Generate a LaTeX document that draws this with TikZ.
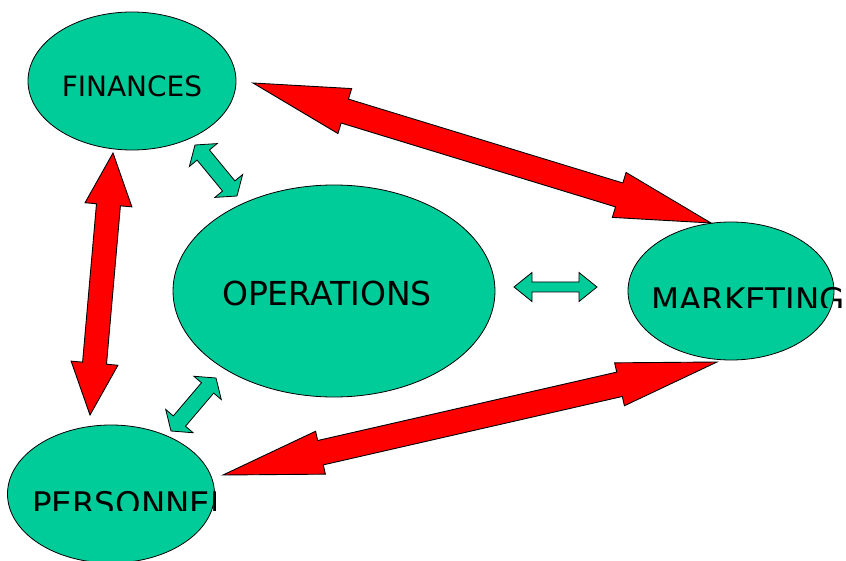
\documentclass[tikz,border=0pt]{standalone}
\usepackage{fontspec}
\setmainfont{DejaVu Sans}
\usepackage{tikz}
\usetikzlibrary{shapes.geometric,calc}
\definecolor{opgreen}{HTML}{00CC99}

% double-headed block arrow: from, to, shaft half, head length, head half, style
\newcommand{\blockarrow}[6]{%
  \filldraw[#6] let \p1=($(#2)-(#1)$), \n1={atan2(\y1,\x1)} in
    (#1) -- ($(#1)+(\n1:#4)+(\n1+90:#5)$) -- ($(#1)+(\n1:#4)+(\n1+90:#3)$)
    -- ($(#2)+(\n1+180:#4)+(\n1+90:#3)$) -- ($(#2)+(\n1+180:#4)+(\n1+90:#5)$)
    -- (#2) -- ($(#2)+(\n1+180:#4)+(\n1-90:#5)$) -- ($(#2)+(\n1+180:#4)+(\n1-90:#3)$)
    -- ($(#1)+(\n1:#4)+(\n1-90:#3)$) -- ($(#1)+(\n1:#4)+(\n1-90:#5)$) -- cycle;
}

\begin{document}
\begin{tikzpicture}[
  x=1pt, y=-1pt,
  oval/.style={ellipse, draw=black, line width=0.8pt, fill=opgreen, inner sep=0pt},
  word/.style={inner sep=0pt, text=black},
  red block/.style={fill=red, draw=black, line width=0.9pt, line join=miter},
  green block/.style={fill=opgreen, draw=black, line width=0.8pt, line join=miter},
  ]
  \useasboundingbox (0,0) rectangle (846,561);

  \node[oval, minimum width=208pt, minimum height=138pt] (fin) at (132,81) {};
  \node[oval, minimum width=322pt, minimum height=212pt] (ops) at (334,291) {};
  \node[oval, minimum width=206pt, minimum height=138pt] (mkt) at (731,291) {};
  \node[oval, minimum width=207pt, minimum height=138pt] (per) at (111,494) {};

  \node[word, font=\fontsize{28}{30}\selectfont] (fintext) at (132,86) {FINANCES};
  \node[word, font=\fontsize{33}{36}\selectfont] (opstext) at (327,293) {OPERATIONS};
  \begin{scope}
    \clip (600,250) rectangle (846,308);
    \node[word, anchor=base west, font=\fontsize{32.5}{36}\selectfont] (mkttext) at (651,312) {MARKETING};
  \end{scope}
  \begin{scope}
    \clip (0,470) rectangle (215,510);
    \node[word, anchor=base west, font=\fontsize{32.5}{36}\selectfont] (pertext) at (32,515) {PERSONNEL};
  \end{scope}

  % tips of the red arrows
  \coordinate (finmkt) at (253,83);
  \coordinate (mktfin) at (711,223);
  \coordinate (finper) at (113,153);
  \coordinate (perfin) at (90,415);
  \coordinate (mktper) at (717,362);
  \coordinate (permkt) at (223,475);
  % tips of the green arrows
  \coordinate (finops) at (195,145);
  \coordinate (opsfin) at (237,196);
  \coordinate (opsmkt) at (514,287);
  \coordinate (mktops) at (597,287);
  \coordinate (perops) at (171,431);
  \coordinate (opsper) at (216,378);

  \blockarrow{finmkt}{mktfin}{12.5pt}{96pt}{23.5pt}{red block}
  \blockarrow{finper}{perfin}{12pt}{52pt}{23.5pt}{red block}
  \blockarrow{permkt}{mktper}{12.5pt}{100pt}{22pt}{red block}

  \blockarrow{finops}{opsfin}{8pt}{13pt}{18pt}{green block}
  \blockarrow{opsmkt}{mktops}{5pt}{18pt}{14.5pt}{green block}
  \blockarrow{perops}{opsper}{8pt}{13pt}{18pt}{green block}
\end{tikzpicture}
\end{document}
